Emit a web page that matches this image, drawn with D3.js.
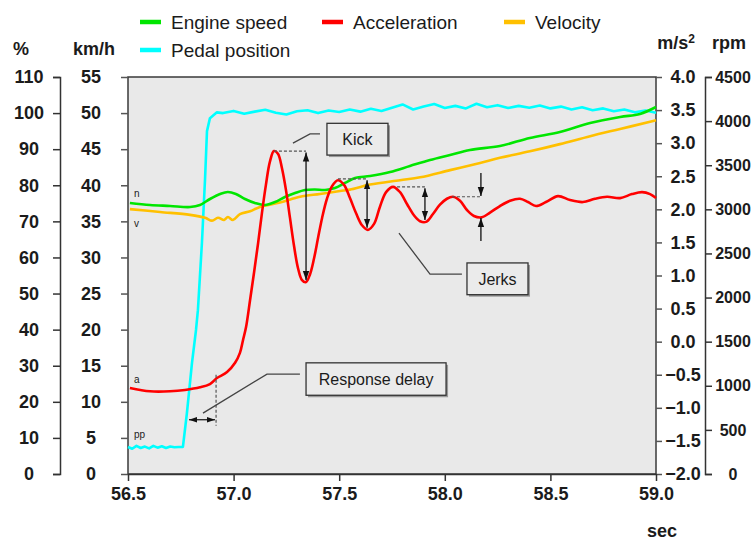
<!DOCTYPE html>
<html><head><meta charset="utf-8">
<script src="https://cdn.jsdelivr.net/npm/d3@7/dist/d3.min.js"></script>
<style>
body{margin:0;background:#fff;}
svg text{font-family:"Liberation Sans",Arial,sans-serif;fill:#1b1b1b;}
</style></head>
<body><svg id="c" width="752" height="540"></svg>
<script>
// ---------- DATA ----------
const timeTicks = [56.5, 57.0, 57.5, 58.0, 58.5, 59.0];
const pctTicks = [0,10,20,30,40,50,60,70,80,90,100,110];
const kmhTicks = [0,5,10,15,20,25,30,35,40,45,50,55];
const accTicks = [-2,-1.5,-1,-0.5,0,0.5,1,1.5,2,2.5,3,3.5,4];
const rpmTicks = [0,500,1000,1500,2000,2500,3000,3500,4000,4500];

const accT = [56.509,56.604,56.699,56.770,56.841,56.888,56.921,56.969,57.007,57.030,57.045,57.059,57.078,57.097,57.116,57.134,57.153,57.172,57.191,57.210,57.229,57.248,57.267,57.286,57.305,57.324,57.343,57.362,57.381,57.400,57.419,57.442,57.466,57.494,57.523,57.551,57.580,57.608,57.636,57.665,57.693,57.722,57.755,57.788,57.821,57.854,57.883,57.911,57.944,57.977,58.010,58.039,58.072,58.105,58.138,58.176,58.214,58.261,58.309,58.356,58.394,58.432,58.479,58.536,58.593,58.654,58.711,58.768,58.830,58.886,58.934,58.972,59.000];
const accVal = [-0.70,-0.75,-0.75,-0.73,-0.69,-0.64,-0.55,-0.46,-0.32,-0.17,0.03,0.22,0.63,1.05,1.49,1.94,2.37,2.72,2.88,2.84,2.62,2.29,1.87,1.45,1.11,0.93,0.90,1.02,1.26,1.57,1.87,2.16,2.35,2.44,2.37,2.17,1.94,1.76,1.69,1.78,2.04,2.26,2.34,2.26,2.08,1.91,1.82,1.81,1.93,2.07,2.16,2.19,2.13,1.99,1.90,1.88,1.95,2.05,2.13,2.16,2.11,2.05,2.11,2.20,2.14,2.11,2.16,2.19,2.17,2.23,2.26,2.23,2.17];

const engineT = [56.509,56.604,56.699,56.794,56.841,56.888,56.936,56.973,57.011,57.054,57.101,57.149,57.196,57.243,57.291,57.338,57.385,57.433,57.480,57.527,57.575,57.646,57.741,57.835,57.930,58.025,58.119,58.261,58.403,58.545,58.688,58.830,58.924,59.000];
const engineRpm = [3072,3049,3038,3026,3049,3117,3174,3197,3174,3117,3072,3049,3083,3140,3185,3219,3225,3219,3242,3299,3355,3378,3423,3491,3559,3616,3673,3718,3809,3877,3979,4047,4081,4160];

const velT = [56.509,56.652,56.794,56.865,56.898,56.926,56.955,56.973,56.997,57.030,57.078,57.125,57.220,57.314,57.409,57.504,57.551,57.646,57.788,57.883,58.025,58.167,58.261,58.403,58.545,58.688,58.830,58.972,59.000];
const velKmh = [36.7,36.3,35.9,35.5,35.1,35.5,35.2,35.6,35.2,36.0,36.4,37.0,37.6,38.4,38.8,39.2,39.4,40.1,40.7,41.1,42.1,43.1,43.8,44.7,45.7,46.8,47.8,48.8,49.0];

const pedalT = [56.50,56.52,56.54,56.56,56.58,56.60,56.62,56.64,56.66,56.68,56.70,56.72,56.74,56.76,56.779,56.803,56.822,56.831,56.850,56.865,56.874,56.888,56.921,56.95,57.00,57.05,57.10,57.15,57.20,57.25,57.30,57.35,57.40,57.45,57.50,57.55,57.60,57.65,57.70,57.75,57.80,57.85,57.90,57.95,58.00,58.05,58.10,58.15,58.20,58.25,58.30,58.35,58.40,58.45,58.50,58.55,58.60,58.65,58.70,58.75,58.80,58.85,58.90,58.95,59.00];
const pedalPct = [7.5,7.0,7.8,7.2,7.6,7.1,7.8,7.3,7.7,7.2,7.6,7.4,7.5,7.5,16.9,30.8,39.9,45.4,64,82,95,98.6,100.2,100.0,100.6,99.8,100.4,100.9,100.1,99.6,100.5,100.8,100.0,100.7,100.3,101.0,100.4,101.2,100.6,101.5,102.4,101.0,101.8,102.5,101.4,102.0,101.3,102.6,101.6,102.2,101.4,102.0,101.5,102.1,101.3,101.8,101.0,101.6,100.8,101.3,100.5,101.0,100.2,100.7,100.1];

const legendItems = [
  {name:"Engine speed", color:"#00e600"},
  {name:"Acceleration", color:"#ff0000"},
  {name:"Velocity", color:"#ffc000"},
  {name:"Pedal position", color:"#00ffff"}
];

// ---------- SCALES ----------
const L=128, R=656, T=77, B=474;
const x = d3.scaleLinear().domain([56.5,59]).range([L,R]);
const yPct = d3.scaleLinear().domain([0,110]).range([B,T]);
const yKmh = d3.scaleLinear().domain([0,55]).range([B,T]);
const yAcc = d3.scaleLinear().domain([-2,4]).range([B,T]);
const yRpm = d3.scaleLinear().domain([0,4500]).range([B,T]);

const svg = d3.select("#c");

// plot background
svg.append("rect").attr("x",L).attr("y",T).attr("width",R-L).attr("height",B-T)
  .attr("fill","#e9e9e9").attr("stroke","#3a3a3a").attr("stroke-width",1.5);

// ---------- AXES ----------
const tickFont = g => g.selectAll("text").attr("font-size",18).attr("font-weight","bold").attr("fill","#1b1b1b");
const styleAx = g => { g.selectAll("path,line").attr("stroke","#333").attr("stroke-width",1.5); };

// % axis
const gP = svg.append("g").attr("transform",`translate(60,0)`)
  .call(d3.axisLeft(yPct).tickValues(pctTicks).tickSize(7).tickSizeOuter(7));
styleAx(gP); tickFont(gP);
gP.selectAll("text").attr("text-anchor","middle").attr("x",-31);

// km/h axis
const gK = svg.append("g").attr("transform",`translate(${L},0)`)
  .call(d3.axisLeft(yKmh).tickValues(kmhTicks).tickSize(7).tickSizeOuter(0));
styleAx(gK); tickFont(gK); gK.select(".domain").remove();
gK.selectAll("line").attr("stroke","#555");
gK.selectAll("text").attr("text-anchor","middle").attr("x",-37);

// acceleration axis
const gA = svg.append("g").attr("transform",`translate(${R},0)`)
  .call(d3.axisRight(yAcc).tickValues(accTicks).tickSize(6).tickSizeOuter(0).tickFormat(d3.format(".1f")));
styleAx(gA); tickFont(gA); gA.select(".domain").remove();
gA.selectAll("line").attr("stroke","#555");
gA.selectAll("text").attr("text-anchor","middle").attr("x",27);

// rpm axis
const gR = svg.append("g").attr("transform",`translate(705,0)`)
  .call(d3.axisRight(yRpm).tickValues(rpmTicks).tickSize(7).tickSizeOuter(7).tickFormat(d3.format("d")));
styleAx(gR); tickFont(gR);
gR.selectAll("text").attr("text-anchor","middle").attr("x",28).attr("font-size",16);

// time axis
const gX = svg.append("g").attr("transform",`translate(0,${B})`)
  .call(d3.axisBottom(x).tickValues(timeTicks).tickSize(7).tickSizeOuter(0).tickFormat(d3.format(".1f")));
styleAx(gX); tickFont(gX);
gX.selectAll("text").attr("y",13);

// unit labels
const unit = (t,xx,yy) => svg.append("text").attr("x",xx).attr("y",yy).attr("text-anchor","middle")
  .attr("font-size",18).attr("font-weight","bold").text(t);
unit("%",21,55); unit("km/h",94,55); unit("rpm",729,49); unit("sec",662,537);
const ms = svg.append("text").attr("x",676).attr("y",49).attr("text-anchor","middle").attr("font-size",18).attr("font-weight","bold");
ms.append("tspan").text("m/s");
ms.append("tspan").attr("font-size",12).attr("dy",-6).text("2");

// ---------- SERIES ----------
const plot = svg.append("g");
const drawLine = (ts, vs, ys, color, curve) => {
  plot.append("path").datum(ts.map((t,i)=>[t,vs[i]]))
    .attr("fill","none").attr("stroke",color).attr("stroke-width",2.6).attr("stroke-linejoin","round")
    .attr("d", d3.line().x(d=>x(d[0])).y(d=>ys(d[1])).curve(curve));
};
drawLine(pedalT, pedalPct, yPct, "#00ffff", d3.curveLinear);
drawLine(velT, velKmh, yKmh, "#ffc000", d3.curveCatmullRom);
drawLine(engineT, engineRpm, yRpm, "#00e600", d3.curveCatmullRom);
drawLine(accT, accVal, yAcc, "#ff0000", d3.curveCatmullRom.alpha(0.5));

// series tags
const tag = (t,xx,yy) => svg.append("text").attr("x",xx).attr("y",yy).attr("font-size",10).attr("fill","#333").text(t);
tag("n", x(56.5)+6, yRpm(engineRpm[0])-6);
tag("v", x(56.5)+6, yKmh(velKmh[0])+18);
tag("a", x(56.5)+6, yAcc(accVal[0])-5);
tag("pp", x(56.5)+6, yPct(pedalPct[0])-9);

// ---------- ANNOTATIONS (data coordinates: time, m/s²) ----------
const defs = svg.append("defs");
defs.append("marker").attr("id","ah").attr("viewBox","0 0 10 10").attr("refX",10).attr("refY",5)
  .attr("markerWidth",7).attr("markerHeight",7).attr("orient","auto-start-reverse")
  .append("path").attr("d","M0,1.5 L10,5 L0,8.5 Z").attr("fill","#111");

const ann = svg.append("g");
const seg = (pts, opts={}) => ann.append("path")
  .attr("d", d3.line().x(d=>x(d[0])).y(d=>yAcc(d[1]))(pts))
  .attr("fill","none").attr("stroke",opts.c||"#111").attr("stroke-width",opts.w||1.3)
  .attr("stroke-dasharray",opts.dash||null)
  .attr("marker-start",opts.ms?"url(#ah)":null).attr("marker-end",opts.me?"url(#ah)":null);

const dashed = {c:"#555", w:1.2, dash:"3,2"};
// Kick
seg([[57.191,2.88],[57.343,2.88]], dashed);
seg([[57.343,2.86],[57.343,0.93]], {ms:true, me:true});
// 2nd
seg([[57.494,2.46],[57.632,2.46]], dashed);
seg([[57.632,2.44],[57.632,1.72]], {ms:true, me:true});
// 3rd
seg([[57.774,2.34],[57.906,2.34]], dashed);
seg([[57.906,2.32],[57.906,1.84]], {ms:true, me:true});
// 4th
seg([[58.034,2.19],[58.171,2.19]], dashed);
seg([[58.171,2.55],[58.171,2.20]], {me:true});
seg([[58.171,1.52],[58.171,1.87]], {me:true});
// response delay
seg([[56.917,-0.50],[56.917,-1.27]], dashed);
seg([[56.789,-1.18],[56.912,-1.18]], {ms:true, me:true, w:1.2});

// leader lines
const lead = {c:"#444", w:1.3};
seg([[57.409,3.14],[57.362,3.14],[57.281,3.00]], lead);
seg([[58.081,1.02],[57.930,1.02],[57.783,1.64]], lead);
seg([[57.314,-0.49],[57.158,-0.49],[56.855,-1.08]], lead);

// boxes
const box = (t0,t1,a0,a1,label) => {
  const bx=x(t0), by=yAcc(a0), bw=x(t1)-x(t0), bh=yAcc(a1)-yAcc(a0);
  ann.append("rect").attr("x",bx+2).attr("y",by+2).attr("width",bw).attr("height",bh).attr("fill","#999");
  ann.append("rect").attr("x",bx).attr("y",by).attr("width",bw).attr("height",bh)
    .attr("fill","#ebebeb").attr("stroke","#333").attr("stroke-width",1.3);
  ann.append("text").attr("x",bx+bw/2).attr("y",by+bh/2+6).attr("text-anchor","middle")
    .attr("font-size",16).attr("fill","#1b1b2b").text(label);
};
box(57.442,57.731,3.30,2.82,"Kick");
box(58.105,58.394,1.19,0.71,"Jerks");
box(57.343,58.006,-0.32,-0.81,"Response delay");

// ---------- LEGEND ----------
const lg = svg.append("g");
const legPos = [[140,22],[322,22],[504,22],[140,50]];
legendItems.forEach((d,i)=>{
  const [lx,ly]=legPos[i];
  lg.append("line").attr("x1",lx).attr("x2",lx+21).attr("y1",ly).attr("y2",ly)
    .attr("stroke",d.color).attr("stroke-width",4.5);
  lg.append("text").attr("x",lx+31).attr("y",ly+7).attr("font-size",19).text(d.name);
});
</script></body></html>
